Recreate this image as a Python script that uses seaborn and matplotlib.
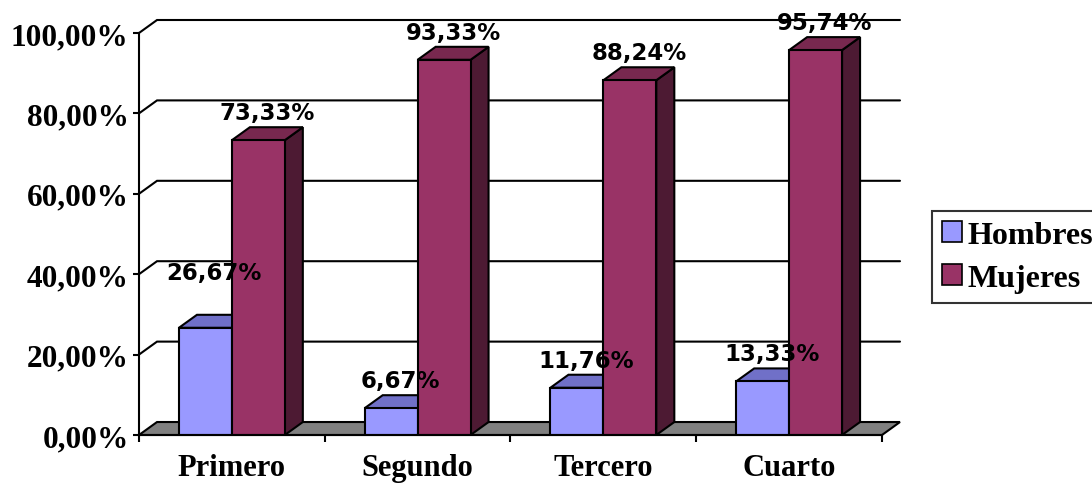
import pandas as pd
import matplotlib.pyplot as plt
import seaborn as sns
from matplotlib.patches import Polygon, Patch

# Datos
cursos = ['Primero', 'Segundo', 'Tercero', 'Cuarto']
hombres = [26.67, 6.67, 11.76, 13.33]
mujeres = [73.33, 93.33, 88.24, 95.74]
series = ['Hombres', 'Mujeres']
y_ticks = [0, 20, 40, 60, 80, 100]

df = pd.DataFrame({
    'curso': cursos * 2,
    'sexo': ['Hombres'] * len(cursos) + ['Mujeres'] * len(cursos),
    'valor': hombres + mujeres,
})

# colores: frente, arriba, lado
COLORES = {
    'Hombres': ('#9999FF', '#7070C8', '#4C4C99'),
    'Mujeres': ('#993366', '#78284F', '#4D1A33'),
}
DX, DY = 0.097, 3.23          # profundidad del efecto 3D (unidades de datos)
X_MAX = 3.597
Y_MAX = 103.23
LABEL_LIFT = {('Primero', 'Hombres'): 7.0}

sns.set_style('white')
plt.rcParams.update({'text.color': 'black', 'xtick.color': 'black',
                     'ytick.color': 'black', 'axes.edgecolor': 'black'})
fig = plt.figure(figsize=(10.92, 4.85), dpi=100)
W, H = 1092, 485
ax = fig.add_axes([139 / W, (H - 436) / H, (900 - 139) / W, (436 - 21) / H])

sns.barplot(data=df, x='curso', y='valor', hue='sexo', order=cursos,
            hue_order=series, palette={k: v[0] for k, v in COLORES.items()},
            saturation=1, width=0.57, gap=0, edgecolor='black', linewidth=1.5,
            errorbar=None, ax=ax, zorder=3, legend=False)

ax.set_xlim(-0.5, X_MAX)
ax.set_ylim(0, Y_MAX)

# pared del fondo: lineas de cuadricula
for y in y_ticks[1:]:
    ax.plot([-0.5, -0.5 + DX, X_MAX], [y, y + DY, y + DY], color='black',
            lw=1.5, zorder=0.5, clip_on=False, solid_joinstyle='miter')

# suelo
suelo = Polygon([(-0.5, 0), (3.5, 0), (3.5 + DX, DY), (-0.5 + DX, DY)],
                closed=True, facecolor='#808080', edgecolor='black', lw=1.5,
                zorder=1, clip_on=False)
ax.add_patch(suelo)

# caras superiores y laterales
for i, sexo in enumerate(series):
    bars = ax.containers[i]
    for j, rect in enumerate(bars):
        x0 = rect.get_x()
        x1 = x0 + rect.get_width()
        h = rect.get_height()
        _, c_top, c_side = COLORES[sexo]
        top = Polygon([(x0, h), (x1, h), (x1 + DX, h + DY), (x0 + DX, h + DY)],
                      closed=True, facecolor=c_top, edgecolor='black', lw=1.5,
                      zorder=2)
        side = Polygon([(x1, 0), (x1 + DX, DY), (x1 + DX, h + DY), (x1, h)],
                       closed=True, facecolor=c_side, edgecolor='black', lw=1.5,
                       zorder=2)
        ax.add_patch(side)
        ax.add_patch(top)
        lift = LABEL_LIFT.get((cursos[j], sexo), 0)
        ax.text(x0 + (x1 - x0) / 2 + DX / 2, h + DY + 3.6 + lift,
                f'{h:.2f}%'.replace('.', ','), ha='center', va='center',
                fontsize=16.5, fontweight='bold', family='DejaVu Sans',
                color='black', zorder=5, clip_on=False)

# ejes
for s in ['top', 'right']:
    ax.spines[s].set_visible(False)
ax.spines['left'].set_bounds(0, 100)
ax.spines['bottom'].set_bounds(-0.5, 3.5)
for s in ['left', 'bottom']:
    ax.spines[s].set_linewidth(1.5)
    ax.spines[s].set_zorder(4)

ax.set_yticks(y_ticks)
ax.set_yticklabels([f'{v:.2f}%'.replace('.', ',') for v in y_ticks],
                   family='Liberation Serif', fontweight='bold', fontsize=22.5)
ax.tick_params(axis='y', direction='out', length=4.5, width=1.5, pad=3, left=True)

ax.set_xticks(range(len(cursos)))
ax.set_xticklabels(cursos, family='Liberation Serif', fontweight='bold', fontsize=22)
ax.set_xticks([k - 0.5 for k in range(len(cursos) + 1)], minor=True)
ax.tick_params(axis='x', which='major', length=0, pad=13)
ax.tick_params(axis='x', which='minor', direction='out', length=5, width=1.5, bottom=True)
ax.set_xlabel('')
ax.set_ylabel('')

# leyenda
handles = [Patch(facecolor=COLORES[s][0], edgecolor='black', lw=1.2, label=s)
           for s in series]
leg = fig.legend(handles=handles, loc='upper left',
                 bbox_to_anchor=(932 / W, 1 - 212 / H),
                 prop={'family': 'Liberation Serif', 'weight': 'bold', 'size': 23},
                 frameon=True, fancybox=False, edgecolor='black',
                 handlelength=0.65, handleheight=0.65, handletextpad=0.15,
                 borderpad=0.3, labelspacing=0.45, borderaxespad=0)
leg.get_frame().set_linewidth(1.5)

fig.savefig('out.png', dpi=100)
